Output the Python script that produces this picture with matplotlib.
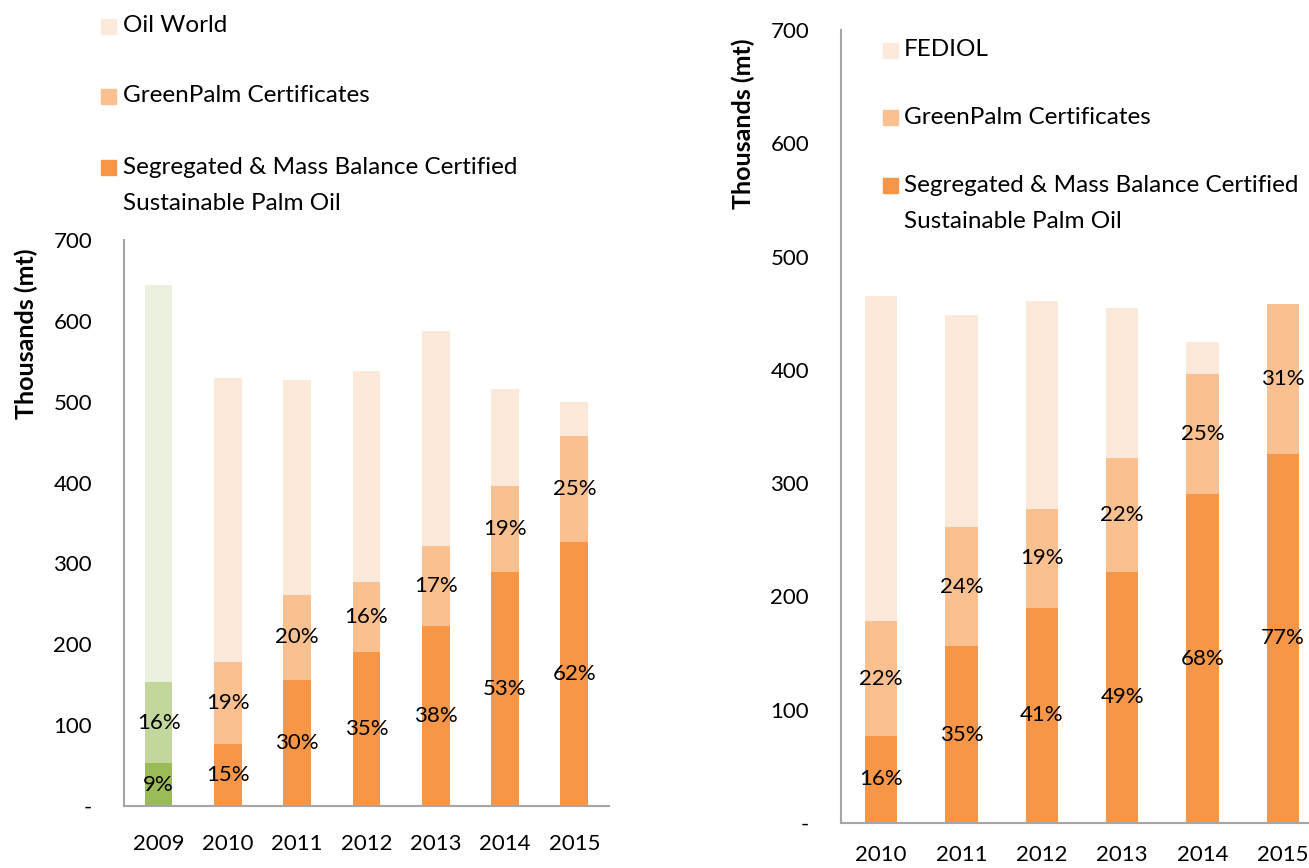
import matplotlib.pyplot as plt
from matplotlib.patches import Rectangle

plt.rcParams['font.family'] = ['Lato', 'DejaVu Sans']

years_left = ["2009", "2010", "2011", "2012", "2013", "2014", "2015"]
years_right = ["2010", "2011", "2012", "2013", "2014", "2015"]

# thousands of tonnes, 2010-2015
segregated = [77, 156, 190, 222, 290, 326]
greenpalm = [101, 105, 87, 100, 106, 132]
oil_world = [529, 527, 538, 587, 516, 500]
fediol = [465, 448, 461, 455, 425, 458]

# 2009 bar (green): certified, greenpalm, rest of total
green_2009 = [53, 100, 491]
green_2009_pct = ["9%", "16%"]

pct_left_seg = ["15%", "30%", "35%", "38%", "53%", "62%"]
pct_left_gp = ["19%", "20%", "16%", "17%", "19%", "25%"]
pct_right_seg = ["16%", "35%", "41%", "49%", "68%", "77%"]
pct_right_gp = ["22%", "24%", "19%", "22%", "25%", "31%"]

legend_left = ["Oil World", "GreenPalm Certificates",
               ["Segregated & Mass Balance Certified", "Sustainable Palm Oil"]]
legend_right = ["FEDIOL", "GreenPalm Certificates",
                ["Segregated & Mass Balance Certified", "Sustainable Palm Oil"]]

ORANGE = "#F79646"
LIGHT_ORANGE = "#FAC090"
PALE = "#FDE9D9"
GREENS = ["#9BBB59", "#C3D69B", "#EBF1DE"]
SPINE = "#A6A6A6"
FS = 16
FS_LEG = 17.5
FS_YLAB = 18

W, H = 1309, 868
fig = plt.figure(figsize=(W / 100, H / 100), dpi=100)


def style_axes(ax, xpad):
    for s in ["top", "right"]:
        ax.spines[s].set_visible(False)
    for s in ["left", "bottom"]:
        ax.spines[s].set_color(SPINE)
        ax.spines[s].set_linewidth(1.5)
    ax.set_ylim(0, 700)
    ax.set_yticks(range(0, 701, 100))
    ax.set_yticklabels(["-"] + [str(v) for v in range(100, 701, 100)])
    ax.tick_params(axis="y", length=0, pad=23, labelsize=FS)
    ax.tick_params(axis="x", length=0, pad=xpad, labelsize=FS)


def stack(ax, x, seg, gp, total, seg_lbl, gp_lbl):
    rest = [max(t - s - g, 0) for s, g, t in zip(seg, gp, total)]
    ax.bar(x, seg, width=0.4, color=ORANGE)
    ax.bar(x, gp, width=0.4, bottom=seg, color=LIGHT_ORANGE)
    ax.bar(x, rest, width=0.4, bottom=[s + g for s, g in zip(seg, gp)], color=PALE)
    for xi, s, g, ls, lg in zip(x, seg, gp, seg_lbl, gp_lbl):
        ax.text(xi, s / 2, ls, ha="center", va="center", fontsize=FS)
        ax.text(xi, s + g / 2, lg, ha="center", va="center", fontsize=FS)


def legend(x_box, x_text, rows, labels, colors):
    for y, lab, c in zip(rows, labels, colors):
        fig.patches.append(Rectangle((x_box / W, 1 - (y + 7.5) / H), 15 / W, 15 / H,
                                     transform=fig.transFigure, color=c))
        lines = lab if isinstance(lab, list) else [lab]
        for i, line in enumerate(lines):
            fig.text(x_text / W, 1 - (y + 36 * i) / H, line, fontsize=FS_LEG, va="center")


# left chart
axl = fig.add_axes([124 / W, 1 - 806 / H, 485 / W, 566 / H])
style_axes(axl, 20)
xl = list(range(1, 7))
bottom = 0
for v, c in zip(green_2009, GREENS):
    axl.bar(0, v, width=0.4, bottom=bottom, color=c)
    bottom += v
axl.text(0, green_2009[0] / 2, green_2009_pct[0], ha="center", va="center", fontsize=FS)
axl.text(0, green_2009[0] + green_2009[1] / 2, green_2009_pct[1], ha="center", va="center", fontsize=FS)
stack(axl, xl, segregated, greenpalm, oil_world, pct_left_seg, pct_left_gp)
axl.set_xlim(-0.5, 6.5)
axl.set_xticks(range(7))
axl.set_xticklabels(years_left)
fig.text(26 / W, 1 - 334 / H, "Thousands (mt)", rotation=90, fontsize=FS_YLAB, fontweight="bold",
         ha="center", va="center")

# right chart (runs past the right edge, as in the source)
axr = fig.add_axes([841 / W, 1 - 823 / H, 482 / W, 793 / H])
style_axes(axr, 16)
xr = list(range(6))
stack(axr, xr, segregated, greenpalm, fediol, pct_right_seg, pct_right_gp)
axr.set_xlim(-0.5, 5.5)
axr.set_xticks(xr)
axr.set_xticklabels(years_right)
fig.text(743 / W, 1 - 124 / H, "Thousands (mt)", rotation=90, fontsize=FS_YLAB, fontweight="bold",
         ha="center", va="center")

legend(101, 123, [26, 96, 167], legend_left, [PALE, LIGHT_ORANGE, ORANGE])
legend(883, 904, [50, 117, 185], legend_right, [PALE, LIGHT_ORANGE, ORANGE])

fig.savefig("out.png", dpi=100)
